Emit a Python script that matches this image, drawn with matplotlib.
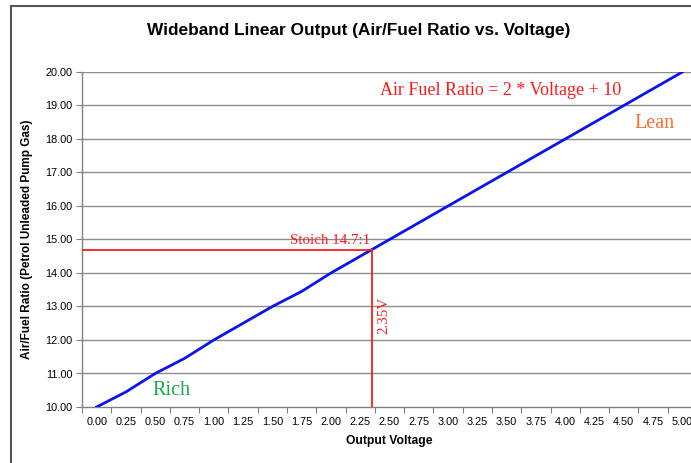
import matplotlib
matplotlib.use("Agg")
import matplotlib.pyplot as plt
from matplotlib.lines import Line2D
import numpy as np

voltages = [0.00, 0.25, 0.50, 0.75, 1.00, 1.25, 1.50, 1.75, 2.00, 2.25, 2.50,
            2.75, 3.00, 3.25, 3.50, 3.75, 4.00, 4.25, 4.50, 4.75, 5.00]
afr = [10.0, 10.45, 11.0, 11.45, 12.0, 12.5, 13.0, 13.45, 14.0, 14.5, 15.0,
       15.5, 16.0, 16.5, 17.0, 17.5, 18.0, 18.5, 19.0, 19.5, 20.0]
x_labels = ["%.2f" % v for v in voltages]
stoich_afr = 14.7
stoich_v = 2.35

plt.rcParams['font.family'] = ['Liberation Sans', 'DejaVu Sans']

fig = plt.figure(figsize=(6.91, 4.63), dpi=100)
ax = fig.add_axes([82/691, 1-407/463, 615/691, 335/463])

pos = np.arange(len(voltages))
ax.set_xlim(-0.5, len(voltages) - 0.5)
ax.set_ylim(10, 20)

for y in range(11, 21):
    ax.axhline(y, color='#8c8c8c', lw=1.0, zorder=1)

ax.plot(pos, afr, color='#0a14f0', lw=2.0, zorder=3)

stoich_pos = stoich_v / 0.25
ax.plot([-0.5, stoich_pos], [stoich_afr, stoich_afr], color='#ff1a1a', lw=1.3, zorder=4)
ax.plot([stoich_pos, stoich_pos], [10, stoich_afr], color='#ff1a1a', lw=1.3, zorder=4)

serif = ['Liberation Serif', 'DejaVu Serif']
ax.text(stoich_pos - 0.05, stoich_afr + 0.08, "Stoich 14.7:1", color='#ff1a1a',
        fontsize=10.8, family=serif, ha='right', va='bottom')
ax.text(stoich_pos + 0.4, 12.72, "2.35V", color='#ff1a1a', fontsize=10.8,
        family=serif, rotation=90, ha='center', va='center')
ax.text(13.8, 19.45, "Air Fuel Ratio = 2 * Voltage + 10", color='#ff1a1a',
        fontsize=13, family=serif, ha='center', va='center')
ax.text(19.05, 18.45, "Lean", color='#ff6a33', fontsize=14.5, family=serif,
        ha='center', va='center')
ax.text(2.55, 10.5, "Rich", color='#1aa64a', fontsize=14.5, family=serif,
        ha='center', va='center')

ax.set_xticks(np.arange(-0.5, len(voltages), 1.0))
ax.set_xticklabels([])
ax.set_xticks(pos, minor=True)
ax.set_xticklabels(x_labels, minor=True, fontsize=7.8)
ax.tick_params(axis='x', which='major', length=4, direction='out', color='#808080')
ax.tick_params(axis='x', which='minor', length=0, pad=7)
ax.set_yticks(np.arange(10, 21, 1))
ax.set_yticklabels(["%.2f" % v for v in np.arange(10, 21, 1)], fontsize=7.8)
ax.tick_params(axis='y', length=4, direction='out', color='#808080', pad=3)

for s in ['top', 'right']:
    ax.spines[s].set_visible(False)
for s in ['left', 'bottom']:
    ax.spines[s].set_color('#808080')
    ax.spines[s].set_linewidth(1.0)

ax.set_xlabel("Output Voltage", fontsize=8.7, fontweight='bold', labelpad=6)
ax.set_ylabel("Air/Fuel Ratio (Petrol Unleaded Pump Gas)", fontsize=8.5,
              fontweight='bold', labelpad=9)

fig.text(359/691, 1-30/463, "Wideband Linear Output (Air/Fuel Ratio vs. Voltage)",
         fontsize=12.4, fontweight='bold', ha='center', va='center')

fig.add_artist(Line2D([11/691, 11/691], [0, 1-6/463], color='#555555', lw=1.5,
                      transform=fig.transFigure))
fig.add_artist(Line2D([11/691, 1], [1-6/463, 1-6/463], color='#555555', lw=1.5,
                      transform=fig.transFigure))

fig.savefig("out.png", dpi=100)
